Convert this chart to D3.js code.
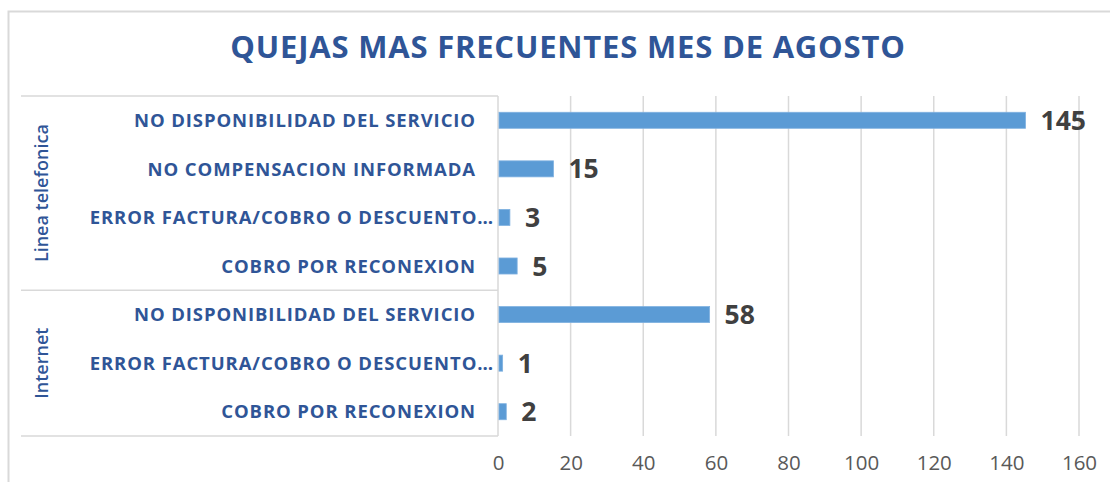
<!DOCTYPE html>
<html>
<head>
<meta charset="utf-8">
<script src="https://cdn.jsdelivr.net/npm/d3@7"></script>
<style>
  html, body { margin: 0; padding: 0; background: #fff; }
  svg { display: block; }
</style>
</head>
<body>
<svg id="chart" width="1110" height="482"></svg>
<script>
const title = "QUEJAS MAS FRECUENTES MES DE AGOSTO";
const groups = ["Linea telefonica", "Internet"];
const categories = [
  "NO DISPONIBILIDAD DEL SERVICIO",
  "NO COMPENSACION INFORMADA",
  "ERROR FACTURA/COBRO O DESCUENTO…",
  "COBRO POR RECONEXION",
  "NO DISPONIBILIDAD DEL SERVICIO",
  "ERROR FACTURA/COBRO O DESCUENTO…",
  "COBRO POR RECONEXION"
];
const categoryGroup = [0, 0, 0, 0, 1, 1, 1];
const values = [145, 15, 3, 5, 58, 1, 2];
const tickValues = [0, 20, 40, 60, 80, 100, 120, 140, 160];

const blue = "#2F5597";
const barColor = "#5B9BD5";
const gridColor = "#D9D9D9";
const font = "'Open Sans', Lato, sans-serif";

const svg = d3.select("#chart");

// chart border
svg.append("rect")
  .attr("x", 8.5).attr("y", 11.5)
  .attr("width", 1120).attr("height", 500)
  .attr("fill", "none").attr("stroke", gridColor).attr("stroke-width", 2);

const plot = { left: 498, right: 1079, top: 96, bottom: 436, boxLeft: 21 };

const x = d3.scaleLinear().domain([0, 160]).range([plot.left, plot.right]);
const rows = d3.range(categories.length);
const y = d3.scaleBand().domain(rows).range([plot.top, plot.bottom])
  .paddingInner(0.67).paddingOuter(0.335);

// title
svg.append("text")
  .attr("x", 568).attr("y", 58)
  .attr("text-anchor", "middle")
  .attr("font-family", font)
  .attr("font-weight", "bold")
  .attr("font-size", 31)
  .attr("letter-spacing", 0.8)
  .attr("fill", blue)
  .text(title);

// gridlines
svg.append("g")
  .attr("class", "grid")
  .selectAll("line")
  .data(tickValues.filter(t => t > 0))
  .join("line")
  .attr("x1", d => x(d)).attr("x2", d => x(d))
  .attr("y1", plot.top).attr("y2", plot.bottom)
  .attr("stroke", gridColor).attr("stroke-width", 1.5);

// x axis tick labels
const xAxis = d3.axisBottom(x).tickValues(tickValues).tickSize(0).tickPadding(0);
const gx = svg.append("g").attr("transform", `translate(0,${plot.bottom + 34})`).call(xAxis);
gx.select(".domain").remove();
gx.selectAll("text")
  .attr("dy", 0)
  .attr("font-family", font)
  .attr("font-size", 20.5)
  .attr("fill", "#595959");

// category box lines
const step = y.step();
const groupBounds = groups.map((g, gi) => {
  const idx = rows.filter(i => categoryGroup[i] === gi);
  return { name: g, y0: plot.top + step * d3.min(idx), y1: plot.top + step * (d3.max(idx) + 1) };
});
const hLines = [plot.top, ...groupBounds.map(b => b.y1)];
svg.append("g").selectAll("line").data(hLines).join("line")
  .attr("x1", plot.boxLeft).attr("x2", plot.left)
  .attr("y1", d => d).attr("y2", d => d)
  .attr("stroke", gridColor).attr("stroke-width", 1.5);
svg.append("line")
  .attr("x1", plot.left).attr("x2", plot.left)
  .attr("y1", plot.top).attr("y2", plot.bottom)
  .attr("stroke", gridColor).attr("stroke-width", 1.5);

// group labels
svg.append("g").selectAll("text").data(groupBounds).join("text")
  .attr("transform", d => `translate(48,${(d.y0 + d.y1) / 2}) rotate(-90)`)
  .attr("text-anchor", "middle")
  .attr("font-family", font)
  .attr("font-weight", 600)
  .attr("font-size", 18)
  .attr("fill", blue)
  .text(d => d.name);

// category labels
svg.append("g").selectAll("text").data(rows).join("text")
  .attr("x", i => categories[i].endsWith("…") ? 494 : 476)
  .attr("y", i => y(i) + y.bandwidth() / 2)
  .attr("dy", "0.36em")
  .attr("text-anchor", "end")
  .attr("font-family", font)
  .attr("font-weight", "bold")
  .attr("font-size", 18.5)
  .attr("letter-spacing", 0.9)
  .attr("fill", blue)
  .text(i => categories[i]);

// bars
svg.append("g").selectAll("rect").data(rows).join("rect")
  .attr("x", x(0) + 1)
  .attr("y", i => y(i))
  .attr("width", i => x(values[i]) - x(0))
  .attr("height", y.bandwidth())
  .attr("fill", barColor)
  .attr("stroke", "#7FB1E0").attr("stroke-width", 0.8);

// value labels
svg.append("g").selectAll("text").data(rows).join("text")
  .attr("x", i => x(values[i]) + 16)
  .attr("y", i => y(i) + y.bandwidth() / 2)
  .attr("dy", "0.36em")
  .attr("font-family", font)
  .attr("font-weight", "bold")
  .attr("font-size", 26.5)
  .attr("fill", "#404040")
  .text(i => values[i]);
</script>
</body>
</html>
